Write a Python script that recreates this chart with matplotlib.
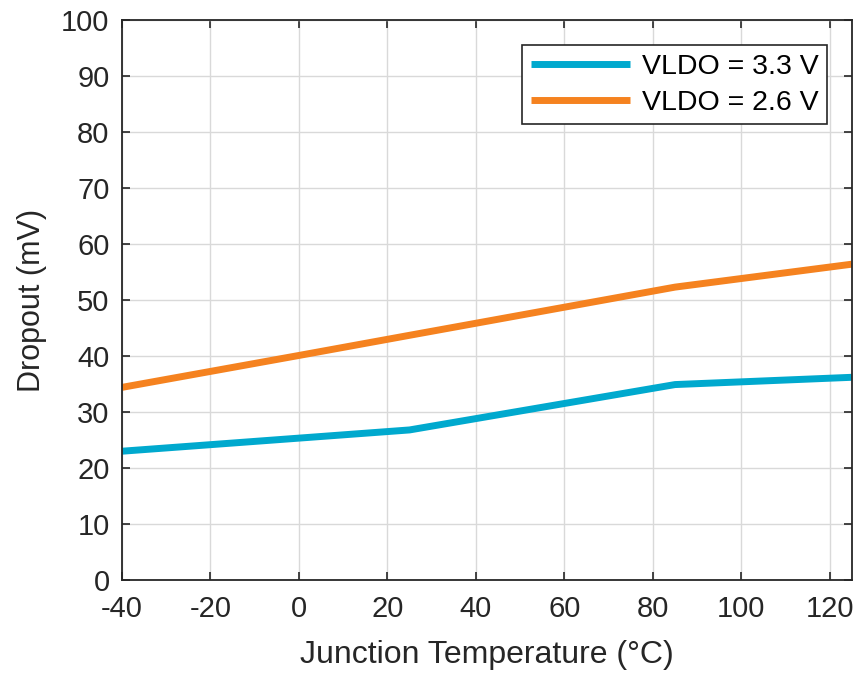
import matplotlib
matplotlib.use("Agg")
import matplotlib.pyplot as plt

temps_33 = [-40, 25, 85, 125]
drop_33 = [23.0, 26.8, 34.9, 36.2]
temps_26 = [-40, 0, 25, 85, 125]
drop_26 = [34.4, 40.1, 43.7, 52.3, 56.4]
labels = ["VLDO = 3.3 V", "VLDO = 2.6 V"]
xticks = [-40, -20, 0, 20, 40, 60, 80, 100, 120]
yticks = list(range(0, 101, 10))

plt.rcParams['font.family'] = ['Liberation Sans', 'DejaVu Sans']
plt.rcParams['axes.unicode_minus'] = False

fig = plt.figure(figsize=(8.58, 6.75), dpi=100)
ax = fig.add_axes([0.1422, 0.1407, 0.8508, 0.8297])

ax.plot(temps_33, drop_33, color='#00A9CE', lw=5, label=labels[0], solid_capstyle='butt')
ax.plot(temps_26, drop_26, color='#F5821F', lw=5, label=labels[1], solid_capstyle='butt')

ax.set_xlim(-40, 125)
ax.set_ylim(0, 100)
ax.set_xticks(xticks)
ax.set_yticks(yticks)
ax.grid(True, color='#d9d9d9', lw=1)
ax.set_axisbelow(True)
ax.tick_params(direction='in', length=6, width=1.2, labelsize=21, colors='#262626',
               top=True, right=True)
ax.tick_params(axis='x', pad=11)
ax.tick_params(axis='y', pad=9)
for s in ax.spines.values():
    s.set_color('#262626')
    s.set_linewidth(1.3)

ax.set_xlabel('Junction Temperature (°C)', fontsize=23, color='#262626', labelpad=12)
ax.set_ylabel('Dropout (mV)', fontsize=22, color='#262626', labelpad=10)

leg = ax.legend(loc='upper right', bbox_to_anchor=(0.966, 0.955), fontsize=20.5,
                fancybox=False, framealpha=1, edgecolor='#262626', handlelength=3.5,
                borderpad=0.3, labelspacing=0.35, handletextpad=0.4, borderaxespad=0)
leg.get_frame().set_linewidth(1.2)

fig.savefig('out.png', dpi=100)
